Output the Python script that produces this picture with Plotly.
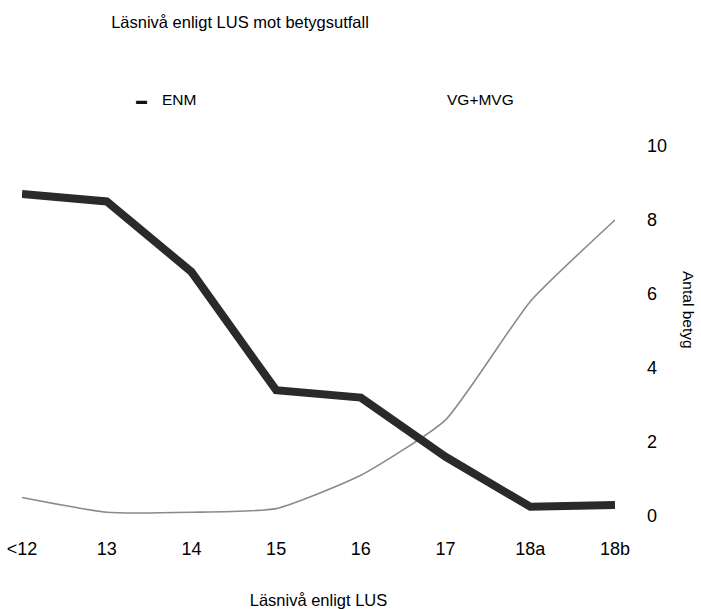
import plotly.graph_objects as go

categories = ["<12", "13", "14", "15", "16", "17", "18a", "18b"]
enm = [8.7, 8.5, 6.6, 3.4, 3.2, 1.6, 0.25, 0.3]
vg_mvg = [0.5, 0.1, 0.1, 0.2, 1.1, 2.6, 5.8, 8.0]
y_ticks = [0, 2, 4, 6, 8, 10]

FONT = "Liberation Sans, Arial, sans-serif"

fig = go.Figure()
fig.add_trace(go.Scatter(
    x=categories, y=vg_mvg, mode="lines", name="VG+MVG",
    line=dict(color="#8a8a8a", width=1.6, shape="spline", smoothing=0.5),
    showlegend=False,
))
fig.add_trace(go.Scatter(
    x=categories, y=enm, mode="lines", name="ENM",
    line=dict(color="#2a2a2a", width=8),
    showlegend=False,
))

W, H = 701, 609
L, R, T, B = 22, 86, 146, 93
pw, ph = W - L - R, H - T - B


def px(x):
    return (x - L) / pw


def py(y):
    return (H - B - y) / ph


fig.update_layout(
    width=W, height=H,
    margin=dict(l=L, r=R, t=T, b=B, autoexpand=False),
    paper_bgcolor="white", plot_bgcolor="white",
    font=dict(family=FONT, size=15, color="black"),
    title=dict(text="Läsnivå enligt LUS mot betygsutfall", x=px(240), xref="paper",
               xanchor="center", y=1 - 22 / H, yanchor="middle",
               font=dict(size=16.5, color="black")),
    xaxis=dict(type="category", range=[0, 7], showgrid=False, zeroline=False,
               showline=False, ticks="", ticklabelstandoff=20, automargin=False,
               tickfont=dict(size=18),
               title=dict(text="Läsnivå enligt LUS", standoff=36, font=dict(size=16.5))),
    yaxis=dict(side="right", range=[0, 10], tickvals=y_ticks, showgrid=False,
               zeroline=False, showline=False, ticks="", ticklabelstandoff=31,
               automargin=False, tickfont=dict(size=18)),
    showlegend=False,
    annotations=[
        dict(text="Antal betyg", x=px(689), y=py(310), xref="paper", yref="paper",
             textangle=90, showarrow=False, font=dict(size=15.5),
             xanchor="center", yanchor="middle"),
        dict(text="▬", x=px(134), y=py(100), xref="paper", yref="paper",
             showarrow=False, font=dict(size=11, color="#111"),
             xanchor="left", yanchor="middle"),
        dict(text="ENM", x=px(160), y=py(100), xref="paper", yref="paper",
             showarrow=False, font=dict(size=15.5), xanchor="left", yanchor="middle"),
        dict(text="VG+MVG", x=px(445), y=py(100), xref="paper", yref="paper",
             showarrow=False, font=dict(size=15.5), xanchor="left", yanchor="middle"),
    ],
)

fig.write_html("out.html", config={"displayModeBar": False},
               post_script="document.body.style.margin='0px';")
